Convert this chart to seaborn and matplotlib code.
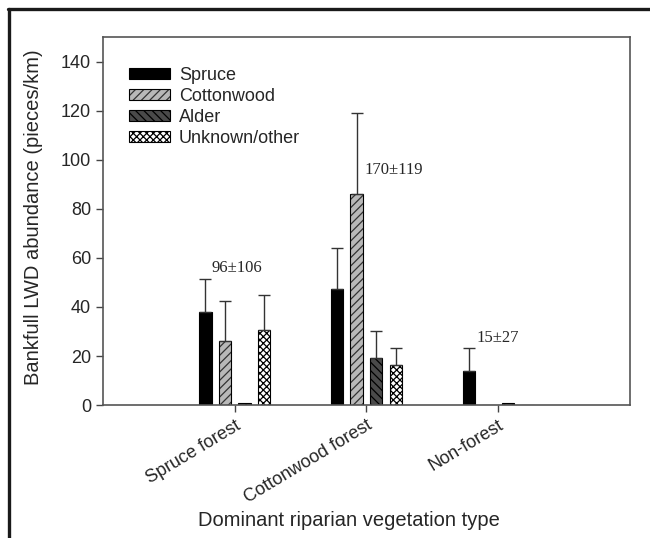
import matplotlib
matplotlib.use('Agg')
import matplotlib.pyplot as plt
import matplotlib.lines as mlines
import matplotlib.patches as mpatches
import numpy as np
import pandas as pd
import seaborn as sns

# ── data ──────────────────────────────────────────────────────
veg_types = ["Spruce forest", "Cottonwood forest", "Non-forest"]
species   = ["Spruce", "Cottonwood", "Alder", "Unknown/other"]

spruce_mean     = [38.1, 47.3, 14.0]
cottonwood_mean = [26.2, 86.0, 0.0]
alder_mean      = [1.0, 19.3, 0.8]
unknown_mean    = [30.6, 16.3, 0.0]

spruce_err     = [13.2, 16.8, 9.2]
cottonwood_err = [16.2, 33.2, 0.0]
alder_err      = [0.0, 10.9, 0.0]
unknown_err    = [14.2, 7.0, 0.0]

totals     = ["96\u00b1106", "170\u00b1119", "15\u00b127"]
total_pos  = [(0.02, 56.0), (1.21, 96.0), (2.0, 27.5)]

means = [spruce_mean, cottonwood_mean, alder_mean, unknown_mean]
errs  = [spruce_err, cottonwood_err, alder_err, unknown_err]

df = pd.DataFrame({
    "veg":     np.repeat([veg_types], len(species), axis=0).ravel(),
    "species": np.repeat(species, len(veg_types)),
    "value":   np.concatenate(means),
})

# ── style ─────────────────────────────────────────────────────
sns.set_style("ticks")
plt.rcParams['font.family'] = ['Liberation Sans', 'DejaVu Sans']
plt.rcParams['hatch.linewidth'] = 0.9

fills   = ["#000000", "#b8b8b8", "#4a4a4a", "#ffffff"]
hatches = ["", "////", "\\\\\\\\", "xxxxx"]
hcolors = ["#000000", "#333333", "#000000", "#000000"]

fig = plt.figure(figsize=(6.5, 5.38), dpi=100)
ax = fig.add_axes([0.1585, 0.247, 0.8105, 0.684])

sns.barplot(data=df, x="veg", y="value", hue="species",
            order=veg_types, hue_order=species,
            palette=fills, width=0.594, gap=0.36,
            errorbar=None, legend=False, ax=ax)

bars_by_hue = [[] for _ in species]
for cont in ax.containers:
    for bar in cont:
        if bar is None:
            continue
        bar.set_edgecolor("black")
        bar.set_linewidth(0.8)
        # which hue level: match facecolor to palette
        fc = matplotlib.colors.to_hex(bar.get_facecolor())
        k = [matplotlib.colors.to_hex(c) for c in fills].index(fc)
        bar.set_hatch(hatches[k])
        bar._hatch_color = matplotlib.colors.to_rgba(hcolors[k])
        bars_by_hue[k].append(bar)

for k, bars in enumerate(bars_by_hue):
    for bar in bars:
        xc = bar.get_x() + bar.get_width() / 2
        i = int(round(xc))
        e = errs[k][i]
        if e > 0:
            ax.errorbar([xc], [bar.get_height()], yerr=[[0], [e]],
                        fmt="none", ecolor="#333333", elinewidth=1.0,
                        capsize=4.5, capthick=1.0, zorder=1)

for txt, (x, y) in zip(totals, total_pos):
    ax.text(x, y, txt, ha="center", va="center", fontsize=12,
            family=["Liberation Serif", "DejaVu Serif"])

ax.set_xlim(-1, 3)
ax.set_ylim(0, 150)
ax.set_yticks(np.arange(0, 141, 20))
ax.set_xticks(range(len(veg_types)))
ax.set_xticklabels(veg_types, rotation=31, ha="right",
                   rotation_mode="anchor", fontsize=13)
ax.tick_params(axis="y", labelsize=13, length=5, width=1, color="#444444")
ax.tick_params(axis="x", length=5, width=1, color="#444444")
ax.set_xlabel("Dominant riparian vegetation type", fontsize=14.5)
ax.set_ylabel("Bankfull LWD abundance (pieces/km)", fontsize=14.5)
ax.xaxis.set_label_coords(0.467, -0.288)
ax.yaxis.set_label_coords(-0.114, 0.51)
for s in ax.spines.values():
    s.set_visible(True)
    s.set_color("#555555")
    s.set_linewidth(1.2)

handles = []
for k, name in enumerate(species):
    p = mpatches.Patch(facecolor=fills[k], edgecolor="black",
                       hatch=hatches[k], linewidth=0.8, label=name)
    handles.append(p)
leg = ax.legend(handles=handles, loc="upper left", frameon=False,
                fontsize=13, handlelength=2.25, handleheight=0.6,
                labelspacing=0.22, handletextpad=0.5,
                bbox_to_anchor=(0.019, 0.963))
for k, h in enumerate(leg.legend_handles):
    h._hatch_color = matplotlib.colors.to_rgba(hcolors[k])

# outer frame (left + top only)
fig.add_artist(mlines.Line2D([0.0138, 0.0138], [0.0, 0.9835],
                             color="#1a1a1a", lw=2.4,
                             transform=fig.transFigure))
fig.add_artist(mlines.Line2D([0.0125, 1.0], [0.9835, 0.9835],
                             color="#1a1a1a", lw=2.4,
                             transform=fig.transFigure))

fig.savefig("out.png", dpi=100)
